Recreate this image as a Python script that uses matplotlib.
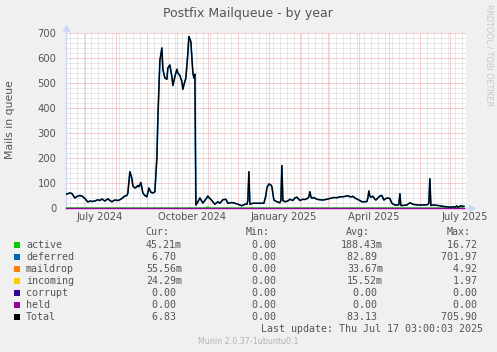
import matplotlib
matplotlib.use("Agg")
import matplotlib.pyplot as plt
import matplotlib.dates as mdates
from matplotlib.patches import Rectangle
import numpy as np
from datetime import datetime

# ---------------- data ----------------
title = "Postfix Mailqueue - by year"
ylabel = "Mails in queue"
start = datetime(2024, 6, 12, 3, 0, 3)
end = datetime(2025, 7, 17, 3, 0, 3)

dates = [
    "2024-06-12", "2024-06-13", "2024-06-16", "2024-06-18", "2024-06-21", "2024-06-24",
    "2024-06-26", "2024-06-28", "2024-07-01", "2024-07-04", "2024-07-06", "2024-07-08",
    "2024-07-11", "2024-07-14", "2024-07-16", "2024-07-18", "2024-07-21", "2024-07-24",
    "2024-07-26", "2024-07-28", "2024-07-31", "2024-08-03", "2024-08-05", "2024-08-07",
    "2024-08-10", "2024-08-12", "2024-08-13", "2024-08-15", "2024-08-17", "2024-08-18",
    "2024-08-20", "2024-08-21", "2024-08-23", "2024-08-24", "2024-08-26", "2024-08-28",
    "2024-08-30", "2024-09-01", "2024-09-03", "2024-09-05", "2024-09-07", "2024-09-09",
    "2024-09-11", "2024-09-12", "2024-09-14", "2024-09-16", "2024-09-17", "2024-09-19",
    "2024-09-21", "2024-09-22", "2024-09-24", "2024-09-26", "2024-09-27", "2024-09-29",
    "2024-10-01", "2024-10-02", "2024-10-04", "2024-10-06", "2024-10-07", "2024-10-08",
    "2024-10-10", "2024-10-12", "2024-10-13", "2024-10-15", "2024-10-16", "2024-10-17",
    "2024-10-18", "2024-10-19", "2024-10-20", "2024-10-22", "2024-10-24", "2024-10-27",
    "2024-10-29", "2024-11-01", "2024-11-03", "2024-11-05", "2024-11-08", "2024-11-11",
    "2024-11-13", "2024-11-16", "2024-11-19", "2024-11-21", "2024-11-25", "2024-11-28",
    "2024-12-01", "2024-12-05", "2024-12-08", "2024-12-10", "2024-12-11", "2024-12-12",
    "2024-12-13", "2024-12-16", "2024-12-21", "2024-12-27", "2024-12-29", "2024-12-30",
    "2025-01-01", "2025-01-03", "2025-01-04", "2025-01-06", "2025-01-09", "2025-01-12",
    "2025-01-13", "2025-01-14", "2025-01-15", "2025-01-17", "2025-01-20", "2025-01-22",
    "2025-01-25", "2025-01-27", "2025-01-29", "2025-02-01", "2025-02-04", "2025-02-06",
    "2025-02-09", "2025-02-10", "2025-02-11", "2025-02-12", "2025-02-13", "2025-02-15",
    "2025-02-18", "2025-02-21", "2025-02-24", "2025-02-27", "2025-03-03", "2025-03-07",
    "2025-03-10", "2025-03-13", "2025-03-16", "2025-03-19", "2025-03-21", "2025-03-23",
    "2025-03-25", "2025-03-26", "2025-03-28", "2025-03-30", "2025-04-02", "2025-04-04",
    "2025-04-07", "2025-04-09", "2025-04-10", "2025-04-11", "2025-04-12", "2025-04-13",
    "2025-04-15", "2025-04-17", "2025-04-18", "2025-04-20", "2025-04-22", "2025-04-24",
    "2025-04-26", "2025-04-28", "2025-04-30", "2025-05-02", "2025-05-04", "2025-05-07",
    "2025-05-10", "2025-05-11", "2025-05-12", "2025-05-13", "2025-05-15", "2025-05-19",
    "2025-05-22", "2025-05-25", "2025-05-28", "2025-06-01", "2025-06-06", "2025-06-09",
    "2025-06-10", "2025-06-11", "2025-06-12", "2025-06-14", "2025-06-17", "2025-06-21",
    "2025-06-25", "2025-06-28", "2025-07-01", "2025-07-04", "2025-07-06", "2025-07-08",
    "2025-07-09", "2025-07-12", "2025-07-14", "2025-07-15",
]
deferred = [
    55, 56, 60, 58, 40, 48,
    50, 48, 38, 24, 28, 26,
    28, 33, 30, 36, 28, 37,
    30, 25, 32, 30, 33, 38,
    48, 50, 60, 145, 118, 88,
    80, 82, 90, 85, 102, 60,
    50, 45, 80, 63, 60, 65,
    200, 360, 590, 640, 555, 520,
    515, 560, 572, 525, 490, 525,
    555, 540, 530, 505, 475, 492,
    520, 620, 686, 665, 605, 540,
    520, 535, 12, 25, 40, 20,
    30, 45, 38, 30, 15, 25,
    19, 33, 35, 19, 22, 19,
    15, 9, 15, 15, 30, 145,
    15, 19, 19, 19, 50, 80,
    96, 92, 85, 32, 25, 21,
    30, 170, 30, 25, 28, 35,
    30, 40, 43, 30, 35, 34,
    39, 45, 65, 45, 39, 42,
    35, 33, 32, 34, 38, 42,
    41, 45, 45, 47, 49, 45,
    45, 47, 40, 36, 30, 25,
    25, 26, 40, 68, 48, 43,
    47, 35, 32, 40, 48, 50,
    32, 38, 40, 38, 19, 12,
    12, 14, 57, 10, 10, 12,
    21, 15, 13, 12, 12, 14,
    20, 117, 10, 12, 11, 9,
    6, 5, 3, 5, 3, 8,
    3, 9, 6, 7,
]
active_dates = ["2024-06-12", "2024-10-22", "2024-10-23", "2024-10-24",
                "2024-10-31", "2024-11-01", "2024-11-02", "2025-07-15"]
active = [0, 0, 4, 0, 0, 4, 0, 0]

legend_names = ["active", "deferred", "maildrop", "incoming", "corrupt", "held", "Total"]
legend_colors = ["#00CC00", "#0066B3", "#FF8000", "#FFCC00", "#330099", "#990099", "#000000"]
cur_vals = ["45.21m", "6.70 ", "55.56m", "24.29m", "0.00 ", "0.00 ", "6.83 "]
min_vals = ["0.00 ", "0.00 ", "0.00 ", "0.00 ", "0.00 ", "0.00 ", "0.00 "]
avg_vals = ["188.43m", "82.89 ", "33.67m", "15.52m", "0.00 ", "0.00 ", "83.13 "]
max_vals = ["16.72 ", "701.97 ", "4.92 ", "1.97 ", "0.00 ", "0.00 ", "705.90 "]
x_labels = ["July 2024", "October 2024", "January 2025", "April 2025", "July 2025"]
x_label_dates = ["2024-07-16", "2024-10-16", "2025-01-16", "2025-04-16", "2025-07-16"]
y_ticks = [0, 100, 200, 300, 400, 500, 600, 700]
last_update = "Last update: Thu Jul 17 03:00:03 2025"
version = "Munin 2.0.37-1ubuntu0.1"
watermark = "RRDTOOL / TOBI OETIKER"

# ---------------- figure ----------------
W, H = 497, 352
BG = "#F0F0F0"
FONT = "#555555"
fig = plt.figure(figsize=(W / 100, H / 100), dpi=100, facecolor=BG)
ax = fig.add_axes([66 / W, (H - 208) / H, 400 / W, 175 / H])
ax.set_facecolor("#FFFFFF")

d = mdates.date2num([datetime.strptime(s, "%Y-%m-%d") for s in dates])
ad = mdates.date2num([datetime.strptime(s, "%Y-%m-%d") for s in active_dates])
act = np.interp(d, ad, active)
defer = np.array(deferred, dtype=float)
total = defer + act

ax.set_xlim(mdates.date2num(start), mdates.date2num(end))
ax.set_ylim(0, 700)

# grid
ax.xaxis.set_major_locator(mdates.MonthLocator())
ax.xaxis.set_minor_locator(mdates.WeekdayLocator(byweekday=mdates.SU))
ax.set_yticks(y_ticks)
ax.set_yticks(np.arange(0, 701, 20), minor=True)
ax.grid(which="minor", color="#D2D2D2", linewidth=0.72, linestyle=(0, (1, 1)))
ax.grid(which="major", color="#F2A0A0", linewidth=0.72, linestyle=(0, (1, 1)))
ax.set_axisbelow(True)
ax.tick_params(which="both", length=0)
ax.tick_params(axis="x", labelbottom=False)
ax.tick_params(axis="y", labelsize=7.2, labelcolor=FONT, pad=7)
for s in ax.spines.values():
    s.set_visible(False)

# axis lines
AXIS = "#CFD6F8"
ax.plot([0, 0], [0, 1.0], transform=ax.transAxes, color=AXIS, lw=1, clip_on=False)
ax.plot([0, 1.015], [0, 0], transform=ax.transAxes, color=AXIS, lw=1, clip_on=False)
ax.plot([0], [1.03], marker="^", markersize=4, color=AXIS, transform=ax.transAxes, clip_on=False)
ax.plot([1.015], [0], marker=">", markersize=4, color=AXIS, transform=ax.transAxes, clip_on=False)

# series
ax.plot(d, act, color=legend_colors[0], lw=1.0, zorder=3)
ax.plot(d, defer, color=legend_colors[1], lw=1.2, zorder=4)
ax.plot([mdates.date2num(start), d[-1]], [0, 0], color=legend_colors[5], lw=1.0, zorder=3, clip_on=False)
ax.plot(d, total, color=legend_colors[6], lw=0.9, zorder=5)

# x labels
for lab, ld in zip(x_labels, x_label_dates):
    ax.text(mdates.date2num(datetime.strptime(ld, "%Y-%m-%d")), -0.02, lab,
            transform=ax.get_xaxis_transform(), ha="center", va="top",
            fontsize=7.2, color=FONT)

# titles
fig.text(248 / W, 1 - 13 / H, title, ha="center", va="center", fontsize=9, color=FONT)
fig.text(10 / W, 1 - 120 / H, ylabel, ha="center", va="center", rotation=90,
         fontsize=7.8, color=FONT)
fig.text(489 / W, 1 - 4 / H, watermark, ha="center", va="top", rotation=270,
         fontsize=5.8, color="#C8C8C8")

# legend table
mono = "DejaVu Sans Mono"
fs = 7.2
def fy(y):
    return 1 - y / H
fig.text(145 / W, fy(232), "Cur:", ha="left", va="center", family=mono, fontsize=fs, color=FONT)
fig.text(246 / W, fy(232), "Min:", ha="left", va="center", family=mono, fontsize=fs, color=FONT)
fig.text(346 / W, fy(232), "Avg:", ha="left", va="center", family=mono, fontsize=fs, color=FONT)
fig.text(447 / W, fy(232), "Max:", ha="left", va="center", family=mono, fontsize=fs, color=FONT)
for i, (nm, col) in enumerate(zip(legend_names, legend_colors)):
    y = 244.5 + i * 12
    fig.patches.append(Rectangle((14 / W, fy(y + 3)), 6 / W, 6 / H, transform=fig.transFigure,
                                 facecolor=col, edgecolor="none"))
    fig.text(26 / W, fy(y), nm, ha="left", va="center", family=mono, fontsize=fs, color=FONT)
    fig.text(182 / W, fy(y), cur_vals[i], ha="right", va="center", family=mono, fontsize=fs, color=FONT)
    fig.text(282 / W, fy(y), min_vals[i], ha="right", va="center", family=mono, fontsize=fs, color=FONT)
    fig.text(383 / W, fy(y), avg_vals[i], ha="right", va="center", family=mono, fontsize=fs, color=FONT)
    fig.text(483 / W, fy(y), max_vals[i], ha="right", va="center", family=mono, fontsize=fs, color=FONT)
fig.text(483 / W, fy(329), last_update, ha="right", va="center", family=mono, fontsize=fs, color=FONT)
fig.text(248 / W, fy(341), version, ha="center", va="center", fontsize=5.8, color="#B4B4B4")

fig.savefig("out.png", dpi=100, facecolor=BG)
